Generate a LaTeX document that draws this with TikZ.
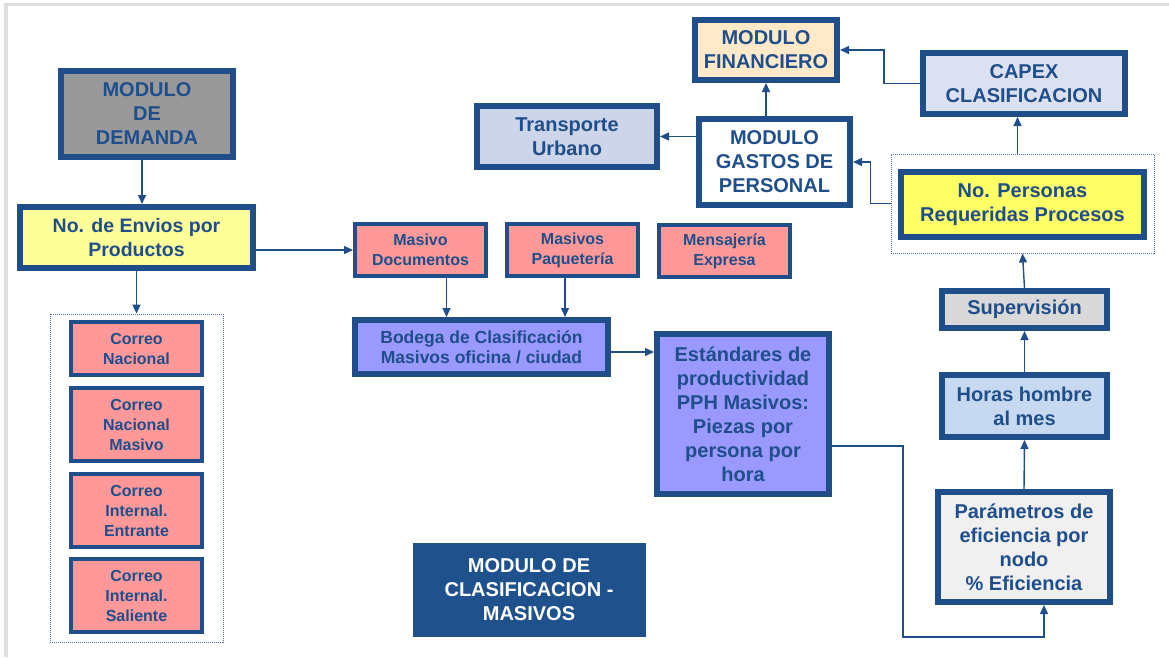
\documentclass[tikz,border=0pt]{standalone}
\usepackage{fontspec}
\setmainfont{Liberation Sans}
\usetikzlibrary{arrows.meta}
\definecolor{dblue}{RGB}{31,78,138}
\definecolor{grisdem}{RGB}{153,153,153}
\definecolor{amarillo}{RGB}{255,255,153}
\definecolor{amarillof}{RGB}{255,255,102}
\definecolor{rosa}{RGB}{255,153,153}
\definecolor{lila}{RGB}{153,153,255}
\definecolor{azulgris}{RGB}{205,213,234}
\definecolor{azulcapex}{RGB}{220,225,242}
\definecolor{durazno}{RGB}{255,233,200}
\definecolor{grisclaro}{RGB}{217,217,217}
\definecolor{grisparam}{RGB}{240,240,240}
\definecolor{celeste}{RGB}{198,217,241}
\definecolor{azulmod}{RGB}{31,82,140}

\begin{document}
\begin{tikzpicture}[x=1pt, y=-1pt]
    \tikzstyle{arrow} = [line width=1.4pt, draw=dblue, -{Triangle[length=9pt, width=8pt]}]
    \tikzstyle{box} = [rectangle, line width=6pt, draw=dblue, text=dblue, align=center, inner sep=0pt, font=\fontsize{20}{24}\selectfont\bfseries]
    \tikzstyle{smallbox} = [box, line width=4pt, font=\fontsize{16}{20}\selectfont\bfseries]
    \tikzstyle{group} = [rectangle, draw=dblue!80, densely dotted, line width=1pt, inner sep=0pt]

    \useasboundingbox (0,0) rectangle (1169,657);
    \draw[line width=3.5pt, black!13] (6,657) -- (6,4.5) -- (1169,4.5);

    % demanda
    \node[box, fill=grisdem, minimum width=172, minimum height=86] (demanda) at (147,114) {MODULO\\DE\\DEMANDA};
    \node[box, fill=amarillo, minimum width=233, minimum height=61, font=\fontsize{19.5}{24}\selectfont\bfseries] (envios) at (136.5,237.5) {No. de Envios por\\Productos};

    % correos
    \node[group, minimum width=173, minimum height=328] (correos) at (136.5,478) {};
    \node[smallbox, fill=rosa, minimum width=131, minimum height=53] (cn) at (136.5,348.5) {Correo\\Nacional};
    \node[smallbox, fill=rosa, minimum width=131, minimum height=73] (cnm) at (136.5,424.5) {Correo\\Nacional\\Masivo};
    \node[smallbox, fill=rosa, minimum width=131, minimum height=73] (cie) at (136.5,510.5) {Correo\\Internal.\\Entrante};
    \node[smallbox, fill=rosa, minimum width=131, minimum height=73] (cis) at (136.5,595.5) {Correo\\Internal.\\Saliente};

    % masivos
    \node[smallbox, fill=rosa, minimum width=131, minimum height=52] (masdoc) at (420.5,250) {Masivo\\Documentos};
    \node[smallbox, fill=rosa, minimum width=131, minimum height=52] (maspaq) at (572.5,250) {Masivos\\Paquetería};
    \node[smallbox, fill=rosa, minimum width=131, minimum height=52] (mensaj) at (724.5,251) {Mensajería\\Expresa};
    \node[box, fill=lila, minimum width=253, minimum height=54, font=\fontsize{17.5}{20}\selectfont\bfseries] (bodega) at (481.5,347) {Bodega de Clasificación\\Masivos oficina / ciudad};
    \node[box, fill=lila, minimum width=172, minimum height=160] (estandares) at (743,414) {Estándares de\\productividad\\PPH Masivos:\\Piezas por\\persona por\\hora};
    \node[box, draw=azulmod, fill=azulmod, text=white, line width=0pt, minimum width=232, minimum height=93] (clasif) at (529,589.5) {MODULO DE\\CLASIFICACION -\\MASIVOS};

    % gastos y financiero
    \node[box, fill=azulgris, minimum width=180, minimum height=61] (transporte) at (567,136.5) {Transporte\\Urbano};
    \node[box, fill=white, minimum width=151, minimum height=86] (gastos) at (774.5,162) {MODULO\\GASTOS DE\\PERSONAL};
    \node[box, fill=durazno, minimum width=142, minimum height=60] (financiero) at (766,50) {MODULO\\FINANCIERO};
    \node[box, fill=azulcapex, minimum width=202, minimum height=61] (capex) at (1024,83.5) {CAPEX\\CLASIFICACION};

    % personas
    \node[group, minimum width=263, minimum height=99] (personas) at (1022.5,203.5) {};
    \node[box, fill=amarillof, line width=5.5pt, minimum width=243, minimum height=65] (reqpers) at (1022.5,204.5) {No. Personas\\Requeridas Procesos};
    \node[box, fill=grisclaro, minimum width=165, minimum height=37] (supervision) at (1024.5,309.5) {Supervisión};
    \node[box, fill=celeste, minimum width=165, minimum height=62] (horas) at (1024.5,406) {Horas hombre\\al mes};
    \node[box, fill=grisparam, minimum width=172, minimum height=110] (parametros) at (1024,547) {Parámetros de\\eficiencia por\\nodo\\\% Eficiencia};

    \coordinate (esquina) at (903,637);

    \draw[arrow] ([xshift=-5pt]demanda.south) -- ([xshift=-5pt]demanda.south |- envios.north);
    \draw[arrow] (envios.east |- masdoc.west) -- (masdoc.west);
    \draw[arrow] (envios.south) -- (correos.north);
    \draw[arrow] ([xshift=26pt]masdoc.south) -- ([xshift=26pt]masdoc.south |- bodega.north);
    \draw[arrow] ([xshift=-7.5pt]maspaq.south) -- ([xshift=-7.5pt]maspaq.south |- bodega.north);
    \draw[arrow] ([yshift=-5pt]bodega.east) -- ([yshift=-5pt]bodega.east -| estandares.west);
    \draw[arrow] ([yshift=-32pt]estandares.east) -| (esquina) -| ([xshift=20pt]parametros.south);
    \draw[arrow] (parametros.north) -- (horas.south);
    \draw[arrow] (horas.north) -- (supervision.south);
    \draw[arrow] (supervision.north) -- (personas.south);
    \draw[arrow] ([xshift=-5pt]personas.north) -- ([xshift=-5pt]personas.north |- capex.south);
    \draw[arrow] (capex.west) -- ++(-36,0) |- (financiero.east);
    \draw[arrow] (gastos.north -| financiero.south) -- (financiero.south);
    \draw[arrow] (gastos.west |- transporte.east) -- (transporte.east);
    \draw[arrow] (personas.west) -- ++(-20,0) |- (gastos.east);

\end{tikzpicture}
\end{document}
